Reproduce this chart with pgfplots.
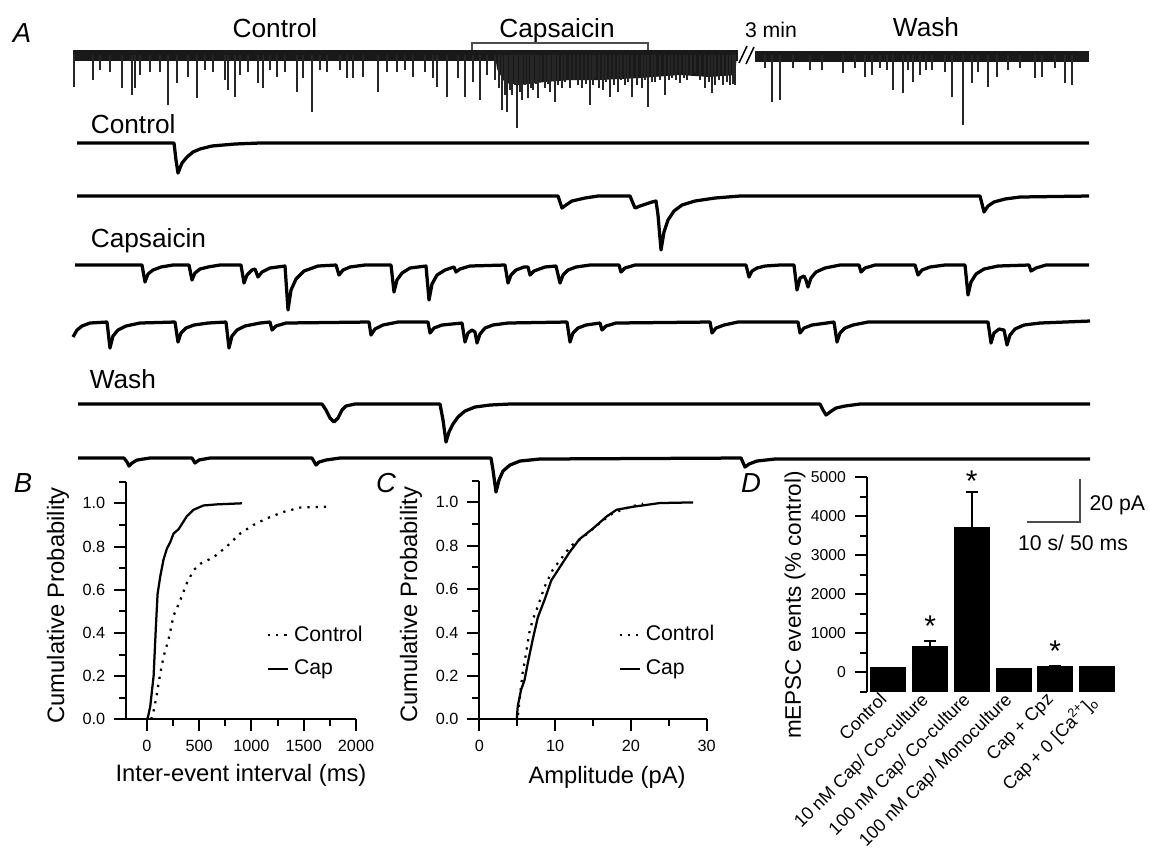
\documentclass[border=0pt]{standalone}
\usepackage{fontspec}
\setmainfont{Liberation Sans}
\usepackage{pgfplots}
\pgfplotsset{compat=1.18}

\newcommand{\fsz}[1]{\fontsize{#1}{#1}\selectfont}

% 1 px of the reference = 0.4pt
\pgfplotsset{
  pix/.style={at={(0pt,0pt)}, anchor=north west, scale only axis,
    width=459.6pt, height=339.6pt, xmin=0, xmax=1149,
    y dir=reverse, hide axis, clip=false},
  cumstyle/.style={scale only axis, anchor=south west,
    axis lines*=left, tick align=outside,
    axis line style={line width=0.8pt},
    tick style={line width=0.8pt, black},
    major tick length=4.8pt, minor tick length=2.8pt,
    ymin=0, ymax=1.1, ytick={0,0.2,0.4,0.6,0.8,1.0},
    minor ytick={0.1,0.3,0.5,0.7,0.9,1.1},
    yticklabel style={/pgf/number format/.cd, fixed, fixed zerofill, precision=1},
    /pgf/number format/1000 sep={},
    /pgf/number format/assume math mode=true,
    tick label style={font=\fsz{6.5}},
    label style={font=\fsz{9.5}},
    ylabel={Cumulative Probability},
    legend cell align=left,
    legend style={draw=none, fill=none, font=\fsz{8.5}, anchor=west,
      row sep=2pt, inner sep=0pt},
    legend image code/.code={\draw[#1] (0pt,0pt) -- (8pt,0pt);},
  },
  ctrl/.style={black, line width=0.9pt, dash pattern=on 0.9pt off 2.4pt},
  capl/.style={black, line width=0.9pt},
  sweep/.style={black, line width=1.3pt, line join=round, no markers},
}

\begin{document}
\begin{tikzpicture}
\path[use as bounding box] (0pt,0pt) rectangle (459.6pt,-339.6pt);

% ---------- A: long record, baseline at 0, spike depth in px
\begin{axis}[pix, ymin=-55, ymax=794]
\addplot[black!90, line width=4.4pt, no markers] coordinates {(73,0) (738,0)};
\addplot[black!90, line width=4.4pt, no markers] coordinates {(755,1) (1089,1)};
\addplot[fill=black!90, draw=none, no markers] coordinates {
  (495,0) (497,14) (505,28) (520,30) (545,27) (570,25) (600,25) (640,23)
  (680,20) (710,22) (735,20) (737,0)} --cycle;
\addplot[ycomb, black!85, line width=0.5pt, no markers] coordinates {
  (74,32) (93,25) (100,15) (110,17) (122,33) (132,40) (135,33) (140,20)
  (150,17) (160,17) (168,50) (177,28) (188,22) (197,43) (205,15) (213,17)
  (225,25) (228,35) (235,42) (240,20) (248,17) (258,28) (263,33) (270,15)
  (277,22) (285,17) (297,37) (303,23) (312,57) (320,15) (327,17) (340,15)
  (347,23) (353,23) (363,22) (378,37) (387,17) (397,17) (405,15) (413,22)
  (425,17) (433,23) (437,32) (447,42) (458,23) (465,42) (473,27) (480,45)
  (487,20)
  (495,25) (499,33) (502,55) (505,40) (507,57) (510,35) (512,40) (515,30)
  (517,73) (520,37) (522,45) (525,30) (528,43) (531,33) (533,35) (536,29)
  (538,43) (541,27) (545,33) (548,29) (550,37) (553,25) (555,47) (558,30)
  (562,33) (565,27) (570,33) (574,25) (578,30) (582,33) (586,29) (590,50)
  (593,30) (595,23) (599,33) (603,35) (606,27) (610,42) (614,30) (618,37)
  (621,25) (625,30) (628,27) (632,42) (637,30) (642,33) (645,25) (648,52)
  (652,27) (655,27) (660,25) (665,40) (669,25) (672,23) (676,25) (680,28)
  (684,23) (687,25) (691,20) (695,18) (700,25) (705,33) (709,27) (712,38)
  (715,30) (719,25) (723,30) (727,27) (730,30) (733,29) (735,30)
  (765,13) (772,47) (780,45) (793,13) (810,15) (822,15) (843,18) (855,13)
  (865,22) (872,20) (880,13) (887,15) (893,35) (903,38) (908,15) (913,27)
  (920,20) (926,15) (932,15) (945,17) (952,42) (963,70) (972,28) (978,17)
  (988,32) (997,22) (1008,15) (1020,13) (1035,23) (1042,22) (1055,13)
  (1065,28) (1072,30)};
\end{axis}

% ---------- A: sweeps and annotations, in px
\begin{axis}[pix, ymin=0, ymax=849]
\node[font=\fsz{11}\itshape] at (axis cs:22,33) {A};
\node[font=\fsz{11}\itshape] at (axis cs:23,483) {B};
\node[font=\fsz{11}\itshape] at (axis cs:386,483) {C};
\node[font=\fsz{11}\itshape] at (axis cs:751,483) {D};
\node[anchor=base, font=\fsz{10.5}] at (axis cs:275,37) {Control};
\node[anchor=base, font=\fsz{10.5}] at (axis cs:557,37) {Capsaicin};
\node[anchor=base, font=\fsz{8.5}] at (axis cs:771,37) {3 min};
\node[anchor=base, font=\fsz{10.5}] at (axis cs:926,36) {Wash};
\draw[black!70, line width=0.8pt] (axis cs:472,50) -- (axis cs:472,43) -- (axis cs:648,43) -- (axis cs:648,50);
\draw[line width=0.6pt] (axis cs:739,63) -- (axis cs:747,46);
\draw[line width=0.6pt] (axis cs:746,64) -- (axis cs:754,47);
\node[anchor=base west, font=\fsz{10.5}] at (axis cs:82,133) {Control};
\node[anchor=base west, font=\fsz{10.5}] at (axis cs:82,247) {Capsaicin};
\node[anchor=base west, font=\fsz{10.5}] at (axis cs:81,388) {Wash};

\addplot[sweep] coordinates {
  (77,143) (174,143) (176,160) (178,173) (182,163) (187,157) (193,152)
  (200,149) (212,146) (235,144) (260,143) (1089,143)};
\addplot[sweep] coordinates {
  (77,196) (558,196) (562,208) (566,205) (572,201) (585,198) (598,196)
  (630,196) (635,208) (640,206) (646,204) (652,202) (656,201) (658,215)
  (661,250) (664,232) (668,220) (674,211) (682,205) (695,201) (715,198)
  (740,196) (980,196) (984,212) (988,206) (994,202) (1005,199) (1020,197)
  (1089,196)};
\addplot[sweep] coordinates {
  (75,265) (142,265) (145,282) (148,274) (153,270) (161,267) (173,265)
  (189,265) (192,280) (195,273) (200,269) (208,267) (220,265) (241,265)
  (244,283) (247,275) (252,270) (255,269) (258,277) (262,272) (270,268)
  (285,266) (288,310) (291,290) (296,279) (304,271) (318,266) (336,265)
  (339,275) (343,270) (350,267) (365,265) (391,265) (394,292) (397,280)
  (402,273) (410,268) (426,266) (429,300) (432,284) (437,275) (445,270)
  (454,267) (456,272) (460,269) (470,266) (505,265) (508,283) (511,275)
  (516,270) (524,267) (528,267) (530,275) (534,271) (545,267) (556,266)
  (560,283) (563,275) (568,270) (576,267) (590,265) (619,265) (621,272)
  (625,268) (635,265) (746,265) (749,277) (752,271) (757,268) (765,266)
  (780,265) (794,265) (797,290) (800,278) (804,276) (806,280) (808,287)
  (811,278) (816,272) (825,268) (840,265) (859,265) (861,272) (865,268)
  (875,265) (915,265) (918,275) (922,270) (930,267) (945,265) (965,265)
  (968,295) (971,282) (976,274) (984,269) (998,266) (1029,265) (1031,271)
  (1036,268) (1046,265) (1089,265)};
\addplot[sweep] coordinates {
  (73,337) (77,330) (82,326) (90,323) (107,322) (110,348) (113,336)
  (118,330) (126,326) (140,323) (175,322) (178,342) (181,333) (186,328)
  (194,325) (208,323) (226,322) (229,348) (232,336) (237,330) (245,326)
  (260,323) (270,322) (272,330) (276,326) (286,323) (369,322) (371,335)
  (375,329) (383,325) (398,322) (428,322) (430,333) (434,328) (442,325)
  (462,323) (465,342) (468,333) (472,330) (475,332) (477,343) (480,334)
  (485,328) (493,325) (508,323) (567,322) (570,342) (573,333) (578,328)
  (586,325) (600,323) (602,330) (606,326) (616,323) (710,322) (712,333)
  (716,328) (724,325) (738,322) (798,322) (800,333) (804,328) (812,325)
  (834,322) (837,342) (840,333) (845,328) (853,325) (868,322) (988,322)
  (991,343) (994,333) (999,329) (1004,330) (1007,345) (1010,335)
  (1015,329) (1024,325) (1040,323) (1090,321)};
\addplot[sweep] coordinates {
  (78,404) (322,404) (326,410) (330,418) (334,422) (338,418) (342,410)
  (346,406) (355,404) (440,404) (443,420) (446,442) (449,432) (453,424)
  (458,417) (465,411) (475,407) (490,405) (510,404) (820,404) (823,410)
  (826,415) (830,412) (836,408) (845,406) (860,404) (1090,404)};
\addplot[sweep] coordinates {
  (78,458) (124,458) (127,462) (129,466) (132,463) (137,460) (150,458)
  (192,458) (195,463) (199,460) (210,458) (312,458) (316,465) (319,462)
  (326,460) (340,458) (491,458) (493,470) (496,492) (499,480) (503,471)
  (510,465) (520,461) (540,459) (741,458) (745,467) (749,464) (757,461)
  (775,459) (1090,459)};
% scale bar
\addplot[black!70, line width=0.8pt, no markers] coordinates {(1027,522) (1080,522) (1080,479)};
\node[anchor=west, inner sep=0pt, font=\fsz{8.5}] at (axis cs:1089,505) {20 pA};
\node[font=\fsz{8.5}] at (axis cs:1073,543) {10 s/ 50 ms};
\end{axis}

% ---------- B
\begin{axis}[cumstyle, at={(50.4pt,-287.72pt)}, width=92pt, height=95.04pt,
  xmin=-200, xmax=2000, xtick={0,500,1000,1500,2000},
  minor xtick={250,750,1250,1750},
  xlabel={Inter-event interval (ms)},
  xlabel style={at={(axis description cs:0.5,-0.234)}, anchor=center},
  ylabel style={at={(axis description cs:-0.296,0.48)}, anchor=center},
  legend style={at={(0.61,0.283)}}]
\addplot[ctrl] coordinates {
  (40,0) (70,0.05) (96,0.12) (127,0.21) (159,0.29) (207,0.37) (255,0.48)
  (318,0.55) (382,0.63) (446,0.69) (510,0.72) (637,0.75) (764,0.80)
  (892,0.86) (1019,0.90) (1146,0.93) (1306,0.96) (1465,0.98) (1736,0.985)};
\addlegendentry{Control}
\addplot[capl] coordinates {
  (0,0) (10,0.01) (32,0.06) (64,0.20) (86,0.43) (102,0.58) (127,0.66)
  (159,0.74) (191,0.79) (223,0.82) (255,0.86) (303,0.88) (382,0.94)
  (446,0.97) (541,0.99) (669,0.995) (908,1.0)};
\addlegendentry{Cap}
\end{axis}

% ---------- C
\begin{axis}[cumstyle, at={(191.72pt,-287.72pt)}, width=90.96pt, height=95.44pt,
  xmin=0, xmax=30, xtick={0,10,20,30}, minor xtick={5,15,25},
  xlabel={Amplitude (pA)},
  xlabel style={at={(axis description cs:0.562,-0.242)}, anchor=center},
  ylabel style={at={(axis description cs:-0.300,0.48)}, anchor=center},
  legend style={at={(0.61,0.283)}}]
\addplot[ctrl] coordinates {
  (5.1,0.02) (5.5,0.15) (5.7,0.21) (6.1,0.29) (6.6,0.40) (7.06,0.46)
  (7.72,0.52) (8.6,0.61) (9.7,0.69) (11.0,0.75) (12.1,0.80) (13.7,0.84)
  (15.9,0.905) (17.6,0.95) (19.9,0.98) (21.6,0.994)};
\addlegendentry{Control}
\addplot[capl] coordinates {
  (4.94,0) (5.07,0.06) (5.5,0.135) (5.96,0.18) (6.4,0.26) (7.06,0.37)
  (7.72,0.47) (8.6,0.55) (9.49,0.64) (10.6,0.70) (11.9,0.77) (13.2,0.83)
  (15.0,0.88) (16.8,0.935) (18.1,0.966) (20.3,0.98) (23.8,0.997) (28.2,1.0)};
\addlegendentry{Cap}
\end{axis}

% ---------- D
\begin{axis}[at={(346.68pt,-276.68pt)}, anchor=south west, scale only axis,
  width=99.6pt, height=85.76pt, xmin=-0.52, xmax=5.45, ymin=-500, ymax=5000,
  axis y line*=left, axis x line*=bottom,
  x axis line style={draw=none},
  y axis line style={line width=0.8pt},
  tick align=outside, major tick length=4.8pt, minor tick length=2.8pt,
  ytick={0,1000,2000,3000,4000,5000},
  minor ytick={-500,500,1500,2500,3500,4500},
  ytick style={line width=0.8pt, black},
  xtick={0,1,2,3,4,5}, xtick style={draw=none},
  xticklabels={{Control}, {10 nM Cap/ Co-culture}, {100 nM Cap/ Co-culture},
    {100 nM Cap/ Monoculture}, {Cap + Cpz},
    {Cap + 0 [Ca\textsuperscript{2+}]\textsubscript{o}}},
  xticklabel style={xshift=-4pt, yshift=6.5pt, rotate=45, anchor=north east, font=\fsz{7.2}, inner sep=1pt},
  /pgf/number format/1000 sep={},
  /pgf/number format/assume math mode=true,
  yticklabel style={font=\fsz{6.3}},
  ylabel={mEPSC events (\% control)},
  ylabel style={font=\fsz{9}, at={(axis description cs:-0.288,0.404)}, anchor=center},
  ybar, bar width=14pt, clip=false]
\addplot[fill=black, draw=black, bar shift=0pt] coordinates {
  (0,-500) (1,-500) (2,-500) (3,-500) (4,-500) (5,-500)};
\addplot[fill=black, draw=black, bar shift=0pt,
  error bars/.cd, y dir=plus, y explicit,
  error bar style={line width=0.8pt, black},
  error mark options={rotate=90, mark size=2.4pt, line width=0.8pt, black}]
  coordinates {
  (0,110) (1,670) +- (0,125) (2,3710) +- (0,915) (3,100) (4,140) +- (0,15) (5,135)};
\node[font=\fsz{12}] at (axis cs:1,1180) {*};
\node[font=\fsz{12}] at (axis cs:2,4900) {*};
\node[font=\fsz{12}] at (axis cs:4,540) {*};
\end{axis}
\end{tikzpicture}
\end{document}
